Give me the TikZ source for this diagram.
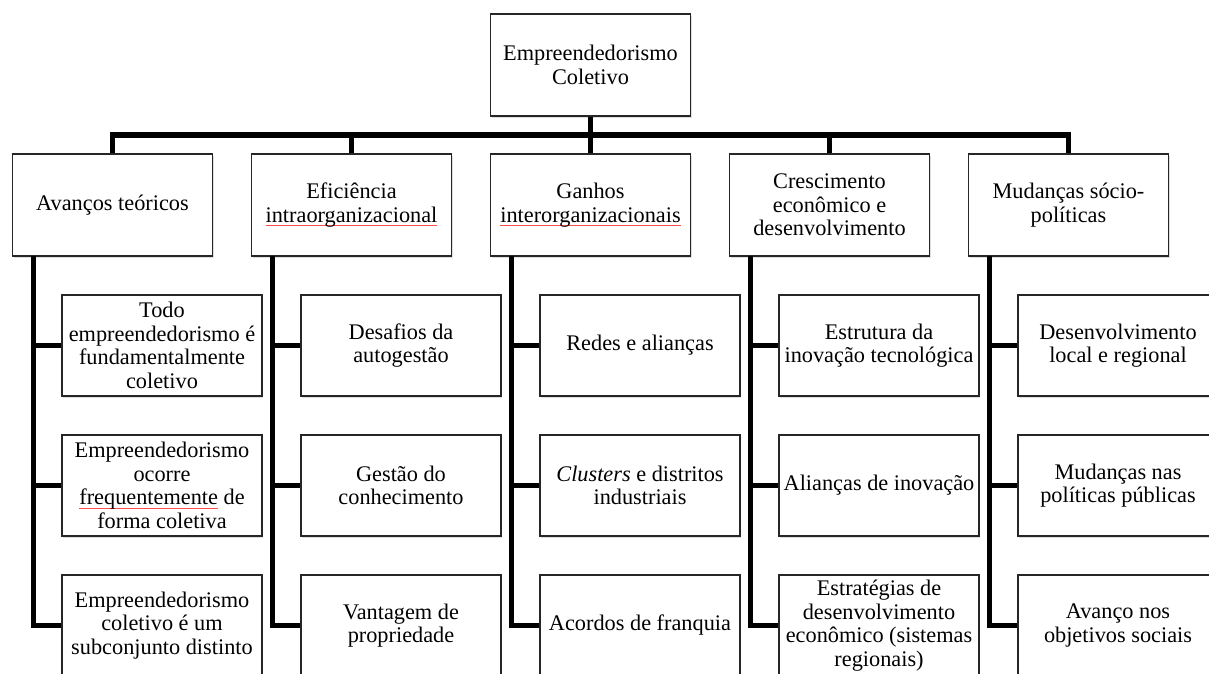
\documentclass[tikz,border=0pt]{standalone}
\usepackage{fontspec}
\setmainfont{Liberation Serif}
\usetikzlibrary{shadows}
\newcommand\spellmark[1]{\setbox0\hbox{#1}\rlap{\textcolor{red!70}{\rule[-3.5pt]{\wd0}{0.8pt}}}\box0}
\tikzset{
  box/.style={draw=black!85, line width=1.3pt, fill=white, minimum width=200pt,
    minimum height=101pt, inner sep=0pt, align=center,
    font=\fontsize{22.3}{23.5}\selectfont,
    drop shadow={shadow xshift=1.2pt, shadow yshift=-1.8pt, fill=black!25, opacity=0.5}},
  conn/.style={line width=5.8pt, draw=black, line join=miter, line cap=butt},
}
\begin{document}
\begin{tikzpicture}[x=1pt,y=-1pt]
\useasboundingbox (0,0) rectangle (1209,673);
\clip (0,0) rectangle (1209,673);
\fill[white] (0,0) rectangle (1209,673);

\coordinate (bus) at (590.5,135);
\coordinate (s1) at (33.5,256);
\coordinate (s2) at (272.5,256);
\coordinate (s3) at (511.5,256);
\coordinate (s4) at (750.5,256);
\coordinate (s5) at (989.5,256);

% nodes
\node[box, minimum height=102pt] (top) at (590.5,65) {Empreendedorismo\\Coletivo};

\node[box, minimum height=102pt] (a) at (112.5,205) {Avanços teóricos};
\node[box, minimum height=102pt] (b) at (351.5,205) {Eficiência\\\spellmark{intraorganizacional}};
\node[box, minimum height=102pt] (c) at (590.5,205) {Ganhos\\\spellmark{interorganizacionais}};
\node[box, minimum height=102pt] (d) at (829.5,205) {Crescimento\\econômico e\\desenvolvimento};
\node[box, minimum height=102pt] (e) at (1068.5,205) {Mudanças sócio-\\políticas};

\node[box] (a1) at (162,345.5) {Todo\\empreendedorismo é\\fundamentalmente\\coletivo};
\node[box] (a2) at (162,485.5) {Empreendedorismo\\ocorre\\\spellmark{frequentemente}\ de\\forma coletiva};
\node[box] (a3) at (162,625.5) {Empreendedorismo\\coletivo é um\\subconjunto distinto};

\node[box] (b1) at (401,345.5) {Desafios da\\autogestão};
\node[box] (b2) at (401,485.5) {Gestão do\\conhecimento};
\node[box] (b3) at (401,625.5) {Vantagem de\\propriedade};

\node[box] (c1) at (640,345.5) {Redes e alianças};
\node[box] (c2) at (640,485.5) {\textit{Clusters} e distritos\\industriais};
\node[box] (c3) at (640,625.5) {Acordos de franquia};

\node[box] (d1) at (879,345.5) {Estrutura da\\inovação tecnológica};
\node[box] (d2) at (879,485.5) {Alianças de inovação};
\node[box] (d3) at (879,625.5) {Estratégias de\\desenvolvimento\\econômico (sistemas\\regionais)};

\node[box] (e1) at (1118,345.5) {Desenvolvimento\\local e regional};
\node[box] (e2) at (1118,485.5) {Mudanças nas\\políticas públicas};
\node[box] (e3) at (1118,625.5) {Avanço nos\\objetivos sociais};

% top tree
\draw[conn] (top.south) -- (c.north);
\draw[conn] (a.north) |- (bus) -| (e.north);
\draw[conn] (b.north) -- (b.north |- bus);
\draw[conn] (d.north) -- (d.north |- bus);

% spines
\foreach \s/\n in {s1/a, s2/b, s3/c, s4/d, s5/e}{
  \draw[conn] (\s) |- (\n3.west);
  \draw[conn] (\s |- \n1.west) -- (\n1.west);
  \draw[conn] (\s |- \n2.west) -- (\n2.west);
}
\end{tikzpicture}
\end{document}
